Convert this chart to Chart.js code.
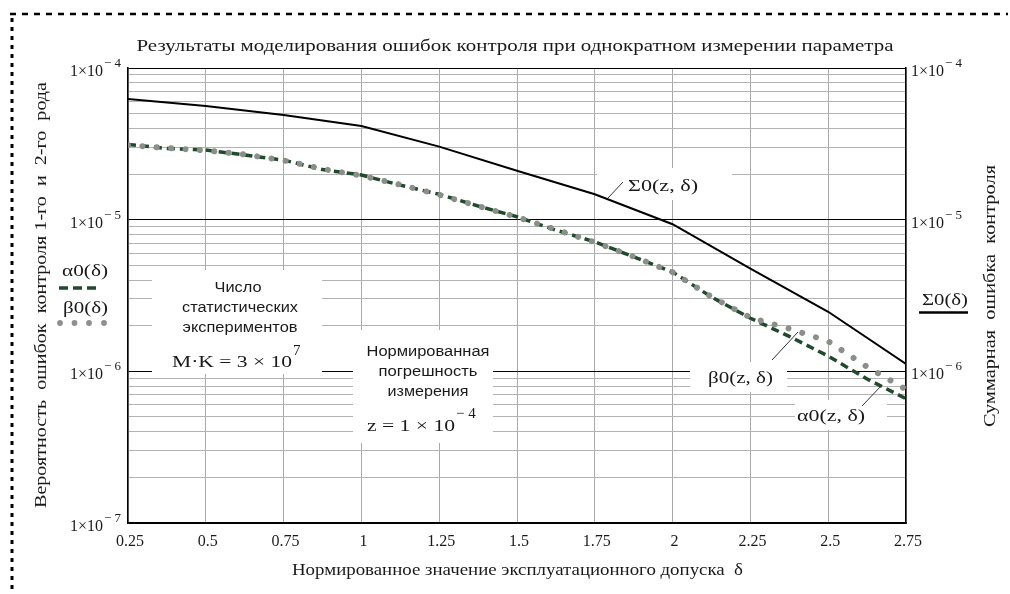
<!DOCTYPE html>
<html><head><meta charset="utf-8">
<script src="https://cdn.jsdelivr.net/npm/chart.js@4.4.1/dist/chart.umd.min.js"></script>
<style>html,body{margin:0;padding:0;background:#fff;}canvas{display:block}</style>
</head><body>
<canvas id="c" width="1010" height="594"></canvas>
<script>
// ---------- data ----------
const deltaSigma = [0.25, 0.5, 0.75, 1.0, 1.25, 1.5, 1.75, 2.0, 2.25, 2.5, 2.75];
const sigmaValues = [6.24e-5, 5.61e-5, 4.90e-5, 4.14e-5, 3.03e-5, 2.10e-5, 1.47e-5, 9.33e-6, 4.76e-6, 2.47e-6, 1.12e-6];

const deltaAB = [0.25, 0.375, 0.5, 0.625, 0.75, 0.875, 1.0, 1.125, 1.25, 1.375, 1.5, 1.625, 1.75, 1.875, 2.0, 2.125, 2.25, 2.375, 2.5, 2.625, 2.75];
const alphaValues = [3.13e-5, 2.95e-5, 2.88e-5, 2.67e-5, 2.47e-5, 2.14e-5, 1.97e-5, 1.69e-5, 1.47e-5, 1.23e-5, 1.045e-5, 8.53e-6, 7.14e-6, 5.69e-6, 4.52e-6, 3.09e-6, 2.24e-6, 1.70e-6, 1.26e-6, 8.9e-7, 6.6e-7];
const betaValues  = [3.10e-5, 2.97e-5, 2.86e-5, 2.69e-5, 2.46e-5, 2.16e-5, 1.95e-5, 1.70e-5, 1.46e-5, 1.23e-5, 1.04e-5, 8.6e-6, 7.1e-6, 5.7e-6, 4.5e-6, 3.1e-6, 2.26e-6, 1.91e-6, 1.58e-6, 1.07e-6, 7.6e-7];

const xTicks = [0.25, 0.5, 0.75, 1, 1.25, 1.5, 1.75, 2, 2.25, 2.5, 2.75];
const xTickLabels = ['0.25', '0.5', '0.75', '1', '1.25', '1.5', '1.75', '2', '2.25', '2.5', '2.75'];
const decadeExponents = [-7, -6, -5, -4];
const minorMultipliers = [1, 2, 3, 4, 5, 6, 7, 8, 9];
const leftTickValues = [1e-4, 1e-5, 1e-6, 1e-7];
const leftTickExps = ['4', '5', '6', '7'];
const rightTickValues = [1e-4, 1e-5, 1e-6];
const rightTickExps = ['4', '5', '6'];

const titleText = 'Результаты моделирования ошибок контроля при однократном измерении параметра';
const xTitle = 'Нормированное значение эксплуатационного допуска  δ';
const yTitle = 'Вероятность  ошибок  контроля 1-го  и  2-го  рода';
const y2Title = 'Суммарная  ошибка  контроля';

// ---------- helpers ----------
const logTicks = [];
decadeExponents.forEach(e => minorMultipliers.forEach(m => {
  const v = Number((m * Math.pow(10, e)).toPrecision(3));
  if (v <= 1e-4 * 1.0001) logTicks.push({ value: v });
}));
function isDecade(v) {
  const l = Math.log10(v);
  return Math.abs(l - Math.round(l)) < 1e-6;
}
const SERIF = '"Liberation Serif", "DejaVu Serif", serif';
const SANS = '"Liberation Sans", Arial, sans-serif';
const INK = '#1a1a1a';

function fitText(ctx, str, x, y, width, font, align) {
  ctx.save();
  ctx.font = font;
  const w = ctx.measureText(str).width;
  const s = width / w;
  ctx.translate(x, y);
  ctx.scale(s, 1);
  ctx.textAlign = align || 'left';
  ctx.fillText(str, 0, 0);
  ctx.restore();
}
function txt(ctx, str, x, y, font, align) {
  ctx.font = font;
  ctx.textAlign = align || 'left';
  ctx.fillText(str, x, y);
}
function powerLabel(ctx, xRight, y, exp, alignLeft) {
  ctx.font = '16px ' + SERIF;
  const mainW = ctx.measureText('1×10').width;
  let x0 = alignLeft ? xRight : xRight - mainW - 21;
  ctx.textAlign = 'left';
  ctx.fillText('1×10', x0, y + 8);
  ctx.font = '13px ' + SERIF;
  ctx.fillText('− ' + exp, x0 + mainW + 1, y - 1);
}

const decor = {
  id: 'decor',
  beforeDatasetsDraw(chart) {
    const ctx = chart.ctx;
    ctx.save();
    ctx.fillStyle = '#fff';
    ctx.fillRect(152, 270, 170, 104);
    ctx.fillRect(353, 330, 140, 113);
    ctx.fillRect(597, 168, 135, 32);
    ctx.fillRect(690, 362, 97, 30);
    ctx.fillRect(795, 400, 92, 30);
    ctx.restore();
  },
  afterDraw(chart) {
    const ctx = chart.ctx;
    const xs = chart.scales.x, ys = chart.scales.y, y2 = chart.scales.y2;
    ctx.save();
    ctx.fillStyle = INK;
    ctx.strokeStyle = INK;

    fitText(ctx, titleText, 515, 51, 757, '17px ' + SERIF, 'center');

    xTicks.forEach((v, i) => {
      const px = xs.getPixelForValue(v);
      txt(ctx, xTickLabels[i], px + 2, 546, '16px ' + SERIF, 'center');
    });
    fitText(ctx, xTitle, 292, 575, 451, '16px ' + SERIF, 'left');

    leftTickValues.forEach((v, i) => {
      powerLabel(ctx, 124, ys.getPixelForValue(v), leftTickExps[i], false);
    });
    rightTickValues.forEach((v, i) => {
      powerLabel(ctx, 911, y2.getPixelForValue(v), rightTickExps[i], true);
    });

    ctx.save();
    ctx.translate(46, 295);
    ctx.rotate(-Math.PI / 2);
    fitText(ctx, yTitle, 0, 0, 426, '16px ' + SERIF, 'center');
    ctx.restore();
    ctx.save();
    ctx.translate(995, 296);
    ctx.rotate(-Math.PI / 2);
    fitText(ctx, y2Title, 0, 0, 262, '16px ' + SERIF, 'center');
    ctx.restore();

    fitText(ctx, 'α0(δ)', 62, 276, 46, '16px ' + SERIF, 'left');
    fitText(ctx, 'β0(δ)', 63, 313, 45, '16px ' + SERIF, 'left');
    ctx.save();
    ctx.strokeStyle = '#1f4a2c';
    ctx.lineWidth = 3.5;
    ctx.setLineDash([9, 5]);
    ctx.beginPath(); ctx.moveTo(59, 288); ctx.lineTo(100, 288); ctx.stroke();
    ctx.restore();
    ctx.save();
    ctx.fillStyle = '#8c918c';
    [60, 74.5, 89, 104].forEach(cx => { ctx.beginPath(); ctx.arc(cx, 323, 2.9, 0, Math.PI * 2); ctx.fill(); });
    ctx.restore();

    fitText(ctx, 'Σ0(δ)', 922, 305, 46, '16px ' + SERIF, 'left');
    ctx.save();
    ctx.lineWidth = 2.5; ctx.strokeStyle = '#000';
    ctx.beginPath(); ctx.moveTo(919, 312.5); ctx.lineTo(968, 312.5); ctx.stroke();
    ctx.restore();

    fitText(ctx, 'Число', 238, 292, 47, '14px ' + SANS, 'center');
    fitText(ctx, 'статистических', 240, 312, 116, '14px ' + SANS, 'center');
    fitText(ctx, 'экспериментов', 240, 332, 115, '14px ' + SANS, 'center');
    fitText(ctx, 'M·K = 3 × 10', 172, 367, 120, '17px ' + SERIF, 'left');
    txt(ctx, '7', 293, 355, '15px ' + SERIF, 'left');

    fitText(ctx, 'Нормированная', 428, 356, 123, '14px ' + SANS, 'center');
    fitText(ctx, 'погрешность', 428, 376, 99, '14px ' + SANS, 'center');
    fitText(ctx, 'измерения', 428, 396, 81, '14px ' + SANS, 'center');
    fitText(ctx, 'z = 1 × 10', 367, 431, 88, '17px ' + SERIF, 'left');
    txt(ctx, '− 4', 456, 418, '15px ' + SERIF, 'left');

    fitText(ctx, 'Σ0(z, δ)', 628, 191, 70, '16px ' + SERIF, 'left');
    fitText(ctx, 'β0(z, δ)', 708, 383, 65, '16px ' + SERIF, 'left');
    fitText(ctx, 'α0(z, δ)', 797, 421, 68, '16px ' + SERIF, 'left');
    ctx.lineWidth = 1;
    ctx.strokeStyle = '#333';
    [[608, 198, 623, 182], [772, 360, 798, 332], [862, 406, 882, 385]].forEach(l => {
      ctx.beginPath(); ctx.moveTo(l[0], l[1]); ctx.lineTo(l[2], l[3]); ctx.stroke();
    });

    ctx.strokeStyle = '#000';
    ctx.lineWidth = 2.5;
    ctx.setLineDash([6, 6]);
    ctx.beginPath(); ctx.moveTo(10, 14); ctx.lineTo(1008, 14); ctx.stroke();
    ctx.lineWidth = 3;
    ctx.setLineDash([4, 5]);
    ctx.beginPath(); ctx.moveTo(12, 18); ctx.lineTo(12, 594); ctx.stroke();
    ctx.restore();
  }
};

new Chart(document.getElementById('c').getContext('2d'), {
  type: 'line',
  data: {
    datasets: [
      { label: 'β0(z,δ)', data: deltaAB.map((x, i) => ({ x, y: betaValues[i] })), yAxisID: 'y',
        borderColor: '#8a8f8a', borderWidth: 6, borderDash: [0.01, 14.4], borderCapStyle: 'round',
        pointRadius: 0, tension: 0, fill: false, order: 0 },
      { label: 'α0(z,δ)', data: deltaAB.map((x, i) => ({ x, y: alphaValues[i] })), yAxisID: 'y',
        borderColor: '#1f4a2c', borderWidth: 3.5, borderDash: [8, 5],
        pointRadius: 0, tension: 0, fill: false, order: 1 },
      { label: 'Σ0(z,δ)', data: deltaSigma.map((x, i) => ({ x, y: sigmaValues[i] })), yAxisID: 'y2',
        borderColor: '#000', borderWidth: 2, pointRadius: 0, tension: 0, fill: false, order: 2 }
    ]
  },
  options: {
    responsive: false, animation: false, devicePixelRatio: 1,
    layout: { padding: { left: 128, right: 104, top: 68, bottom: 71 } },
    plugins: { legend: { display: false }, tooltip: { enabled: false }, title: { display: false } },
    scales: {
      x: { type: 'linear', min: 0.25, max: 2.75,
        afterBuildTicks: s => { s.ticks = xTicks.map(v => ({ value: v })); },
        ticks: { display: false },
        grid: { color: '#a9a9a9', lineWidth: 1, drawTicks: false },
        border: { display: true, color: '#000', width: 1.5 },
        afterFit: s => { s.height = 0; } },
      y: { type: 'logarithmic', position: 'left', min: 1e-7, max: 1e-4,
        afterBuildTicks: s => { s.ticks = logTicks.map(t => ({ value: t.value })); },
        ticks: { display: false },
        grid: { color: c => (c.tick && isDecade(c.tick.value)) ? '#000' : '#b3b3b3', lineWidth: 1, drawTicks: false },
        border: { display: true, color: '#000', width: 1.5 },
        afterFit: s => { s.width = 0; } },
      y2: { type: 'logarithmic', position: 'right', min: 1e-7, max: 1e-4,
        afterBuildTicks: s => { s.ticks = logTicks.map(t => ({ value: t.value })); },
        ticks: { display: false },
        grid: { display: false, drawTicks: false },
        border: { display: true, color: '#000', width: 1.5 },
        afterFit: s => { s.width = 0; } }
    }
  },
  plugins: [decor]
});
</script>
</body></html>
